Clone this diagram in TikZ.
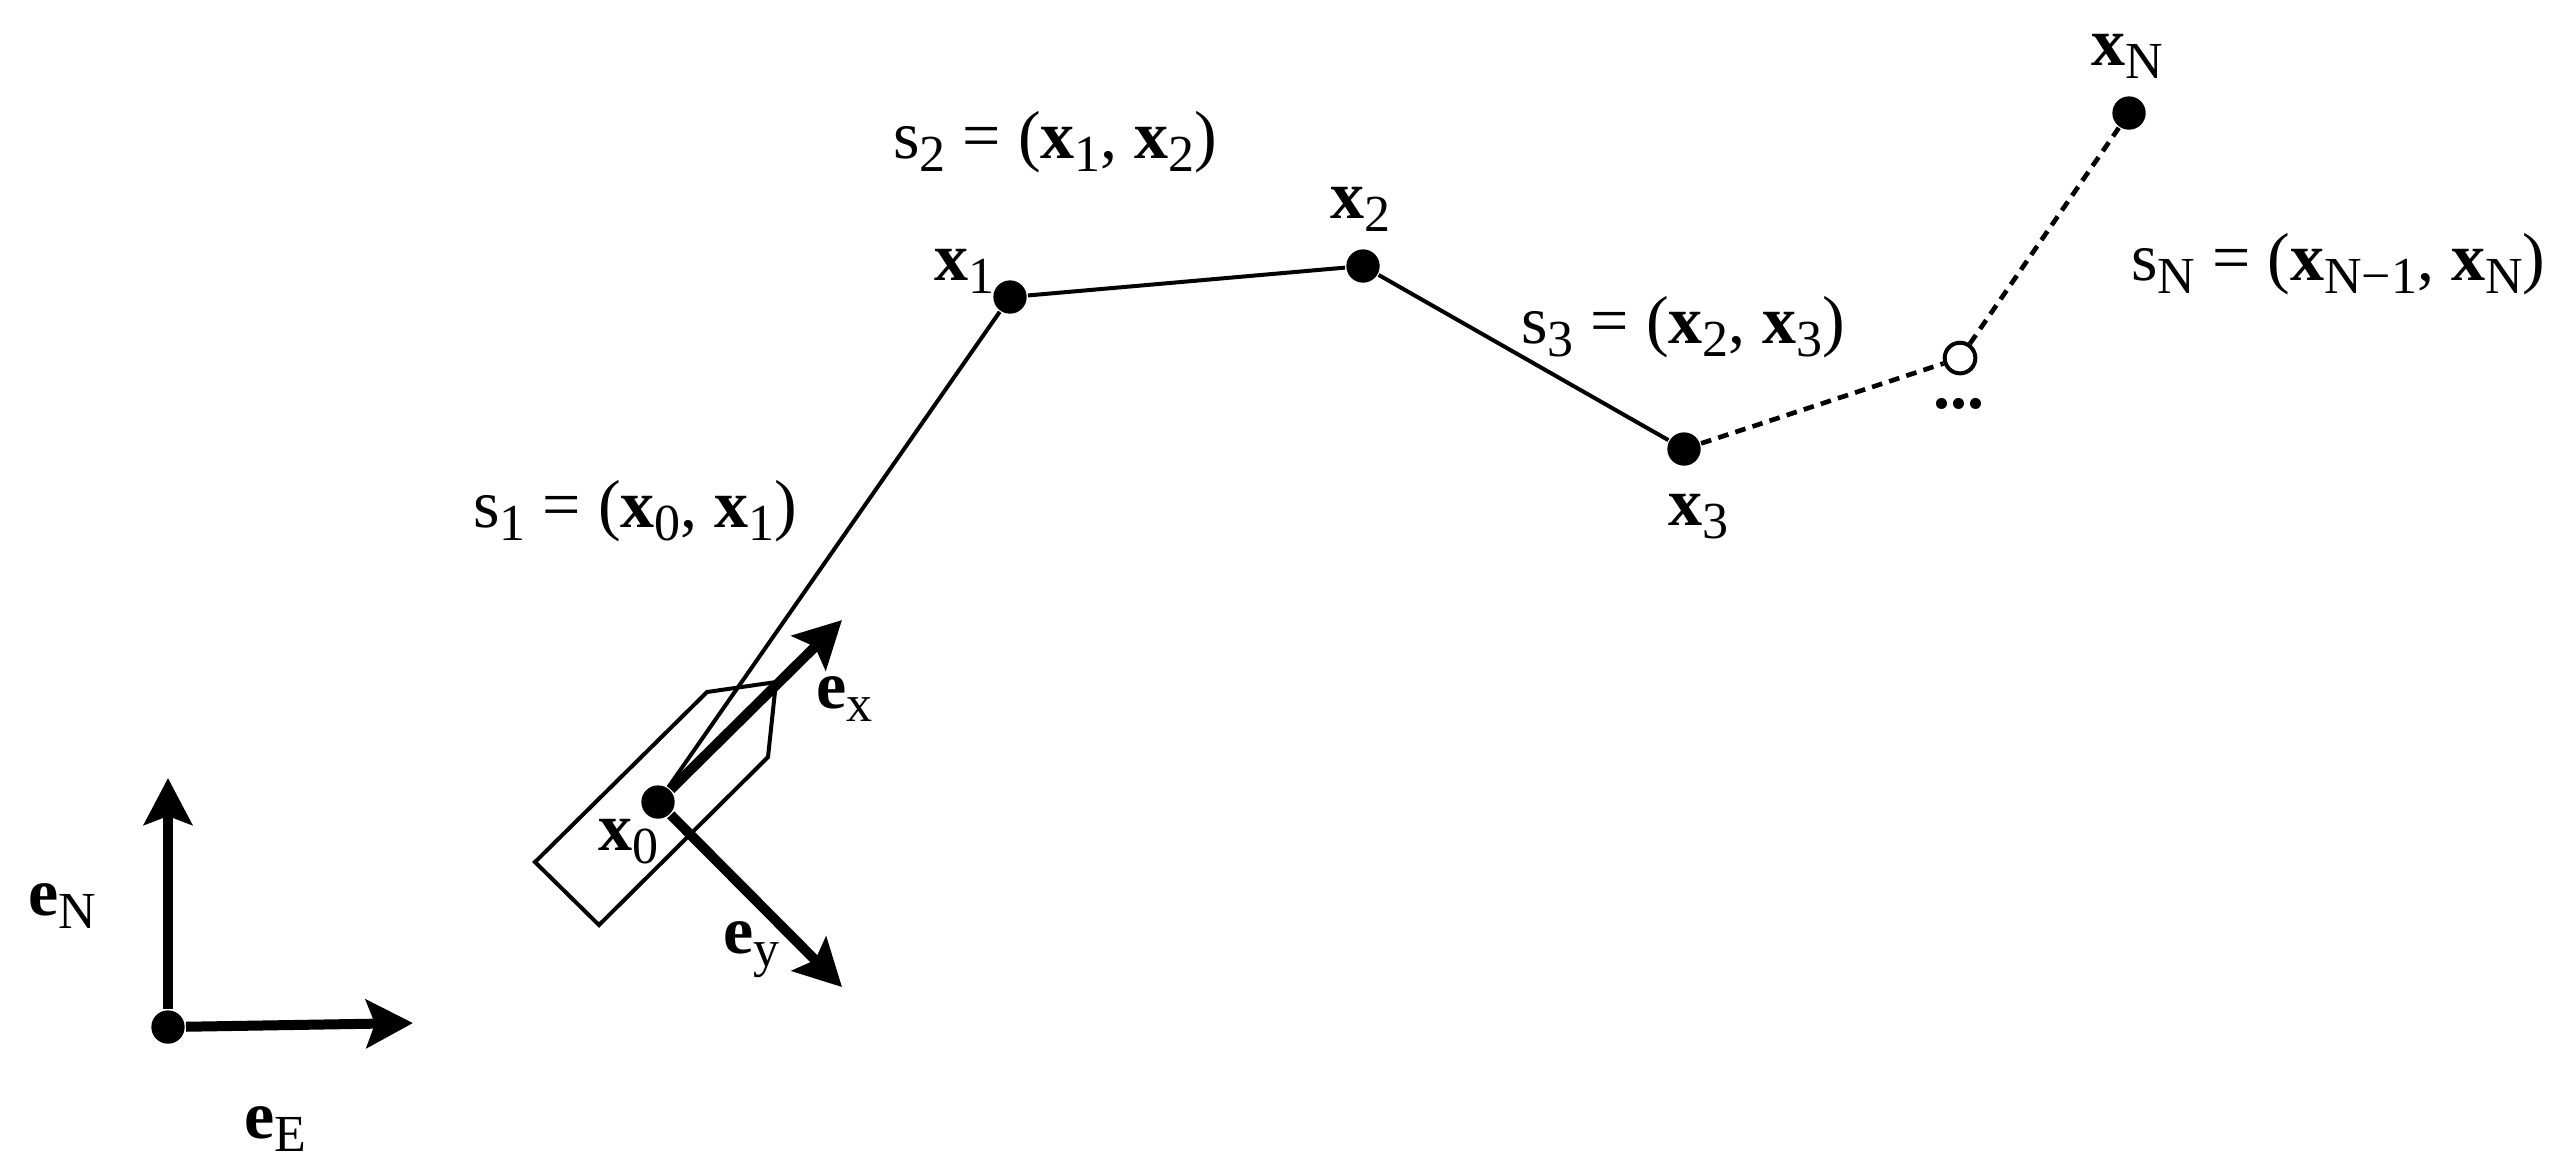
\documentclass[tikz,border=0pt]{standalone}
\usepackage{fontspec}
\setmainfont{Liberation Serif}
\usepackage{tikz}
\usetikzlibrary{arrows.meta}
\newcommand{\lo}[1]{\raisebox{-2pt}{\fontsize{7.8}{9}\selectfont #1}}

\begin{document}
\begin{tikzpicture}[x=0.15pt,y=0.15pt,yscale=-1,xscale=1,
  dot/.style={circle,fill=black,inner sep=0pt,minimum size=5pt},
  hollow/.style={circle,draw=black,fill=white,line width=0.6pt,inner sep=0pt,minimum size=4.6pt},
  lbl/.style={inner sep=0pt,anchor=base west,font=\fontsize{10.2}{12}\selectfont},
  seg/.style={line width=0.6pt},
  gap/.style={line width=0.7pt,dash pattern=on 1.6pt off 1.1pt},
  vec/.style={line width=1.5pt,-{Stealth[length=7pt,width=7.2pt,inset=1.3pt]}}]
\useasboundingbox (0,0) rectangle (2572,1172);

%Shape: Boat
\draw [seg] (535,862) -- (707,692) -- (776,682) -- (768,757) -- (599,925) -- cycle;

%Points
\node [dot] (x0) at (658,802) {};
\node [dot] (x1) at (1010,297) {};
\node [dot] (x2) at (1363,266) {};
\node [dot] (x3) at (1684,449) {};
\node [hollow] (xk) at (1960,358) {};
\node [dot] (xN) at (2129,113) {};
\node [dot] (o) at (168,1027) {};

%Vector ends
\coordinate (ex) at (842,620);
\coordinate (ey) at (842,987);
\coordinate (eN) at (168,778);
\coordinate (eE) at (413,1023);

%Straight Lines
\draw [seg] (x0) -- (x1) -- (x2) -- (x3);
\draw [gap] (x3) -- (xk) -- (xN);

%Vectors
\draw [vec] (x0) -- (ex);
\draw [vec] (x0) -- (ey);
\draw [vec] (o) -- (eN);
\draw [vec] (o) -- (eE);

%Labels
\node [lbl] (lx0) at (597,850) {\textbf{x}\lo{0}};
\node [lbl] (lx1) at (933,280) {\textbf{x}\lo{1}};
\node [lbl] (lx2) at (1329,218) {\textbf{x}\lo{2}};
\node [lbl] (lx3) at (1667,525) {\textbf{x}\lo{3}};
\node [lbl] (lxN) at (2090,65) {\textbf{x}\lo{N}};
\node [lbl,anchor=center] (more) at (1959,404) {\textbf{...}};
\node [lbl] (s1) at (472,527) {s\lo{1} = (\textbf{x}\lo{0}, \textbf{x}\lo{1})};
\node [lbl] (s2) at (892,158) {s\lo{2} = (\textbf{x}\lo{1}, \textbf{x}\lo{2})};
\node [lbl] (s3) at (1520,343) {s\lo{3} = (\textbf{x}\lo{2}, \textbf{x}\lo{3})};
\node [lbl] (sN) at (2130,280) {s\lo{N} = (\textbf{x}\lo{N−1}, \textbf{x}\lo{N})};
\node [lbl] (lex) at (815,708) {\textbf{e}\lo{x}};
\node [lbl] (ley) at (722,953) {\textbf{e}\lo{y}};
\node [lbl] (leN) at (27,915) {\textbf{e}\lo{N}};
\node [lbl] (leE) at (243,1138) {\textbf{e}\lo{E}};

\end{tikzpicture}
\end{document}
